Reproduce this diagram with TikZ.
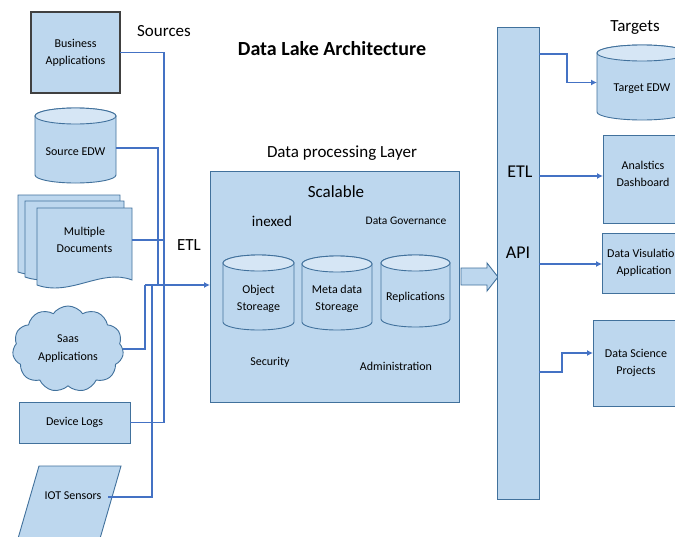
\documentclass[tikz,border=0pt]{standalone}
\usepackage{fontspec}
\setmainfont{Carlito}
\usetikzlibrary{shapes.symbols,arrows.meta,calc}
\definecolor{lb}{HTML}{BDD7EE}
\definecolor{lbt}{HTML}{D6E6F5}
\definecolor{bd}{HTML}{41719C}
\definecolor{cn}{HTML}{4472C4}
\definecolor{dk}{HTML}{404040}
\newcommand\dbcyl[6]{%
  \node[anchor=north west, minimum width=#4pt, minimum height=#5pt, inner sep=0pt, outer sep=0pt] (#1) at (#2,#3) {};
  \draw[cylbody] ([yshift=-8pt]#1.north west) -- ([yshift=8pt]#1.south west)
     arc[start angle=180, end angle=360, x radius=#4pt/2, y radius=8pt]
     -- ([yshift=-8pt]#1.north east)
     arc[start angle=0, end angle=180, x radius=#4pt/2, y radius=8pt] -- cycle;
  \draw[cyltop] ([yshift=-8pt]#1.north) ellipse[x radius=#4pt/2, y radius=8pt];
  \node[txt] at ([yshift=-6pt]#1.center) {#6};
}
\newcommand\docshape[4]{%
  \draw[docst] (#1,#2) -- (#3,#2) -- (#3,#4-5)
    .. controls ($(#3,#4-5)!0.32!(#1,#4-5)+(0,-12)$) and ($(#1,#4)!0.35!(#3,#4)+(0,12)$) .. (#1,#4) -- cycle;
}
\begin{document}
\begin{tikzpicture}[x=1pt,y=-1pt,
  box/.style={draw=bd, fill=lb, line width=0.9pt, inner sep=0pt, outer sep=0pt, align=center, font=\fontsize{12}{17}\selectfont},
  txt/.style={inner sep=0pt, align=center, font=\fontsize{12}{17}\selectfont},
  cylbody/.style={draw=bd, fill=lb, line width=0.9pt},
  cyltop/.style={draw=bd, fill=lbt, line width=0.9pt},
  docst/.style={draw=bd, fill=lb, line width=0.9pt},
  conn/.style={draw=cn, line width=1.5pt},
  arr/.style={conn, -{Latex[length=6pt,width=6pt]}},
  big/.style={inner sep=0pt, font=\fontsize{17}{20}\selectfont},
]
\path[use as bounding box] (0,0) rectangle (675,536);
\clip (0,0) rectangle (675,536);
\fill[white] (0,0) rectangle (675,536);

% titles
\node[inner sep=0pt, font=\fontsize{20}{24}\selectfont\bfseries] (title) at (332,49) {Data Lake Architecture};
\node[big] (sources) at (164,31) {Sources};
\node[big] (targets) at (635,28) {Targets};
\node[big] (dpltitle) at (342,153) {Data processing Layer};
\node[big] (etlleft) at (189,245) {ETL};

% sources
\node[box, draw=dk, line width=1.1pt, minimum width=89pt, minimum height=81pt] (ba) at (75.5,52.5) {Business\\Applications};
\dbcyl{sedw}{35}{108}{81}{75}{Source EDW}
\docshape{18}{195}{120}{272}
\docshape{25}{201}{124}{277}
\docshape{37}{208}{132}{285}
\node[txt, minimum width=95pt, minimum height=64pt] (md) at (84.5,240) {Multiple\\Documents};
\node[cloud, cloud puffs=11, cloud puff arc=110, aspect=1.3, draw=bd, fill=lb, line width=0.9pt,
      minimum width=111pt, minimum height=86pt, inner sep=0pt, align=center,
      font=\fontsize{12}{18}\selectfont] (saas) at (68,349) {Saas\\Applications};
\node[box, minimum width=111pt, minimum height=41pt] (dl) at (74.5,422.5) {Device Logs};
\draw[docst] (39,466) -- (121,466) -- (99,542) -- (17,542) -- cycle;
\node[txt] (iot) at (73,496) {IOT Sensors};

% connectors left
\coordinate (busA) at (164,0);
\coordinate (busB) at (158,0);
\coordinate (busC) at (152,0);
\coordinate (join) at (145,285);
\draw[conn] (ba.east) -| (busA |- dl.east) -- (dl.east);
\draw[conn] (sedw.east |- 0,148) -| (busB |- join);
\draw[conn] (md.east) -- (busA |- md.east);
\draw[conn] (saas.east) -| (join);
\draw[conn] ([xshift=35pt]iot.center |- 0,497) -| (busC |- join);
\draw[arr] (join) -- (210,285);

% data processing layer
\node[box, minimum width=249pt, minimum height=231pt] (dpl) at (334.5,286.5) {};
\node[big] (scal) at (336,192) {Scalable};
\node[inner sep=0pt, font=\fontsize{15}{18}\selectfont] (inexed) at (272,221) {inexed};
\node[txt, font=\fontsize{11.5}{14}\selectfont] (gov) at (406,221) {Data Governance};
\dbcyl{obj}{223}{255}{71}{75}{Object\\Storeage}
\dbcyl{meta}{302}{256}{70}{74}{Meta data\\Storeage}
\dbcyl{repl}{381}{255}{69}{72}{Replications}
\node[txt] (sec) at (270,362) {Security};
\node[txt] (adm) at (396,366) {Administration};

% block arrow
\draw[docst] (461,268) -- (487,268) -- (487,263) -- (498,277) -- (487,291) -- (487,285) -- (461,285) -- cycle;

% ETL / API column
\node[box, minimum width=42pt, minimum height=472pt] (col) at (518,263) {};
\node[big, font=\fontsize{18}{20}\selectfont] (etlr) at (520,172) {ETL};
\node[big, font=\fontsize{18}{20}\selectfont] (api) at (518,253) {API};

% targets
\dbcyl{tedw}{597}{45}{90}{75}{Target EDW}
\node[box, minimum width=80pt, minimum height=88pt] (ad) at (643,179) {Analstics\\Dashboard\\[-6pt]};
\node[box, minimum width=84pt, minimum height=60pt] (dv) at (644,263) {Data Visulation\\Application};
\node[box, minimum width=86pt, minimum height=86pt] (dsp) at (636,363) {Data Science\\Projects};

\coordinate (kA) at (567,0);
\coordinate (kB) at (562,0);
\draw[arr] (col.east |- 0,54) -| (kA |- tedw.west) -- (tedw.west);
\draw[arr] (col.east |- 0,176) -- (ad.west |- 0,176);
\draw[arr] (col.east |- 0,264) -- (dv.west |- 0,264);
\draw[arr] (col.east |- 0,372) -| (kB |- 0,353) -- (dsp.west |- 0,353);
\end{tikzpicture}
\end{document}
